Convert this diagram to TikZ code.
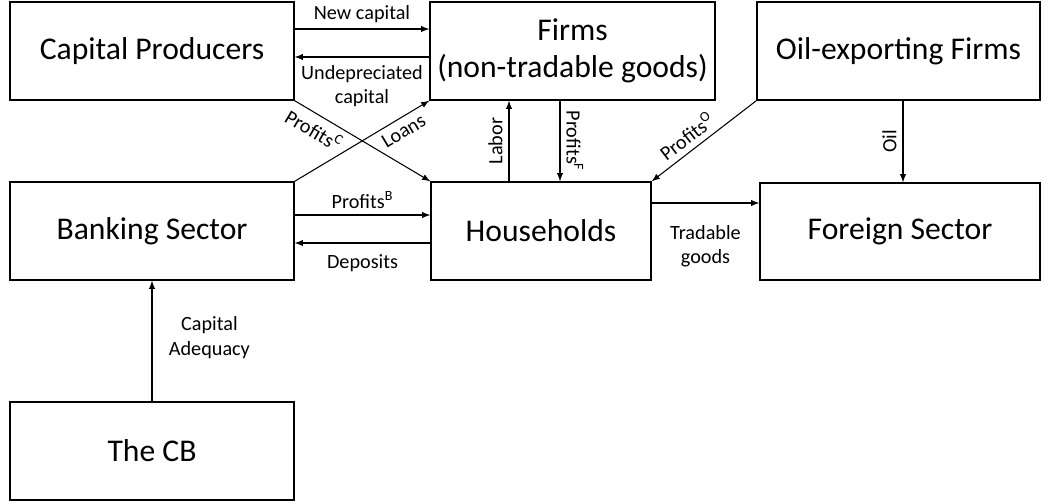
\documentclass[tikz,border=0pt]{standalone}
\usepackage{fontspec}
\setmainfont{Carlito}
\usepackage{tikz}
\usetikzlibrary{calc, positioning, arrows}

\begin{document}
\begin{tikzpicture}[
        sector/.style={draw, line width=0.8pt, minimum width=5.68cm, minimum height=1.96cm, align=center, font=\fontsize{18}{21}\selectfont},
        flow/.style={-latex, line width=0.6pt},
        lbl/.style={font=\fontsize{11.5}{14}\selectfont, align=center}
    ]
            \useasboundingbox (0, 0) rectangle (21, -10.06);
            \node[sector] (cp) at (3.04, -1.02) {Capital Producers};
            \node[sector, minimum width=5.7cm] (firms) at (11.45, -1.02) {Firms\\(non-tradable goods)};
            \node[sector, minimum width=5.66cm] (oil) at (17.97, -1.02) {Oil-exporting Firms};
            \node[sector] (bank) at (3.04, -4.62) {Banking Sector};
            \node[sector, minimum width=4.4cm] (hh) at (10.82, -4.62) {Households};
            \node[sector, minimum width=5.6cm, minimum height=1.94cm] (foreign) at (18, -4.63) {Foreign Sector};
            \node[sector] (cb) at (3.04, -9.02) {The CB};

            \draw[flow] ([yshift=.44cm]cp.east) -- ([yshift=.44cm]firms.west) node[midway, above, lbl]{New capital};
            \draw[flow] ([yshift=-.12cm]firms.west) -- ([yshift=-.12cm]cp.east) node[midway, below, lbl, yshift=-1pt]{Undepreciated\\capital};
            \draw[flow] (cp.south east) -- (hh.north west) node[pos=.2, sloped, below, lbl]{Profits\textsuperscript{C}};
            \draw[flow] (bank.north east) -- (firms.south west) node[pos=.76, sloped, below, lbl]{Loans};
            \draw[flow] ([xshift=-.64cm]hh.north) coordinate (lab) -- (lab |- firms.south) node[midway, sloped, above, lbl]{Labor};
            \draw[flow] ([xshift=.38cm]hh.north |- firms.south) coordinate (pf) -- (pf |- hh.north) node[midway, sloped, above, lbl]{Profits\textsuperscript{F}};
            \draw[flow, latex-] (hh.north east) -- (oil.south west) node[pos=.42, sloped, above, lbl]{Profits\textsuperscript{O}};
            \draw[flow] ([xshift=.09cm]oil.south) coordinate (po) -- (po |- foreign.north) node[midway, rotate=90, anchor=south, lbl]{Oil};
            \draw[flow] ([yshift=.32cm]bank.east) -- ([yshift=.32cm]hh.west) node[midway, above, lbl]{Profits\textsuperscript{B}};
            \draw[flow] ([yshift=-.24cm]hh.west) -- ([yshift=-.24cm]bank.east) node[midway, below, lbl, yshift=-3pt]{Deposits};
            \draw[flow] ([yshift=.56cm]hh.east) -- ([yshift=.56cm]hh.east -| foreign.west) node[midway, below, lbl, yshift=-9pt]{Tradable\\goods};
            \draw[flow] (cb.north) -- (bank.south) node[midway, right, lbl, xshift=6pt, yshift=2pt]{Capital\\Adequacy};
        \end{tikzpicture}
\end{document}
